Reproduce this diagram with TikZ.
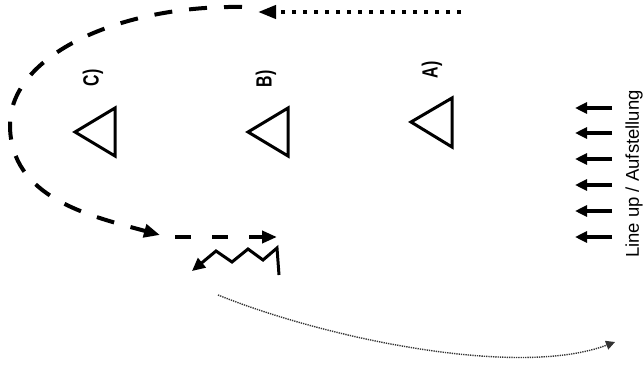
\documentclass[tikz,border=0pt]{standalone}
\usepackage{fontspec}
\setmainfont{Liberation Sans}
\usetikzlibrary{arrows.meta}
\begin{document}
\begin{tikzpicture}[x=1pt,y=-1pt,
  tri/.style={line width=3pt, line join=miter},
  bigdash/.style={line width=4pt, dash pattern=on 18pt off 17pt, -{Triangle[length=16pt,width=13pt]}},
  shortdash/.style={line width=4pt, dash pattern=on 16pt off 21pt, -{Triangle[length=15pt,width=12pt]}},
  bigdot/.style={line width=4pt, dash pattern=on 4pt off 7pt, -{Triangle[length=18pt,width=13pt]}},
  linearrow/.style={line width=3.2pt, -{Triangle[length=12pt,width=11pt]}},
  zig/.style={line width=3pt, line join=miter, -{Triangle[length=13pt,width=12pt]}},
  finearrow/.style={line width=1.4pt, black!80, dash pattern=on 1.3pt off 1pt, -{Triangle[length=9pt,width=9pt]}},
  lbl/.style={rotate=90, font=\fontsize{22}{22}\selectfont\bfseries, inner sep=0pt},
  side/.style={rotate=90, font=\fontsize{18.5}{20}\selectfont, inner sep=0pt}]
\useasboundingbox (0,0) rectangle (644,369);

% triangles
\draw[tri] (75,132) -- (115,108) -- (115,156) -- cycle;
\draw[tri] (248,132) -- (288,108) -- (288,156) -- cycle;
\draw[tri] (411,122) -- (452,98) -- (452,147) -- cycle;

% labels
\node[lbl] (lc) at (93,78) {\scalebox{0.72}[1]{C)}};
\node[lbl] (lb) at (266,79) {\scalebox{0.72}[1]{B)}};
\node[lbl] (la) at (432,70) {\scalebox{0.72}[1]{A)}};
\node[side] (lu) at (634,174) {Line up / Aufstellung};

% line-up arrows
\foreach \i/\yy in {1/108,2/133,3/159,4/185,5/211,6/237} {
  \coordinate (rs\i) at (612,\yy);
  \coordinate (re\i) at (575,\yy);
  \draw[linearrow] (rs\i) -- (re\i);
}

% top dotted arrow
\coordinate (ds) at (461,12);
\coordinate (de) at (258,12);
\draw[bigdot] (ds) -- (de);

% dashed curve
\coordinate (cs) at (242,7);
\coordinate (cl) at (10,125);
\coordinate (ce) at (160,235);
\draw[bigdash] (cs) .. controls (120,5) and (10,55) .. (cl)
  .. controls (10,198) and (90,216) .. (ce);

% straight dashed arrow
\coordinate (ss) at (175,237);
\coordinate (se) at (277,237);
\draw[shortdash] (ss) -- (se);

% zigzag
\coordinate (zs) at (279,275);
\coordinate (ze) at (192,271);
\draw[zig] (zs) -- (277,248) -- (263,260) -- (248,249) -- (232,262) -- (216,251) -- (ze);

% thin dotted curve
\coordinate (ts) at (218,295);
\coordinate (te) at (615,342);
\draw[finearrow] (ts) .. controls (330,340) and (520,378) .. (te);
\end{tikzpicture}
\end{document}
